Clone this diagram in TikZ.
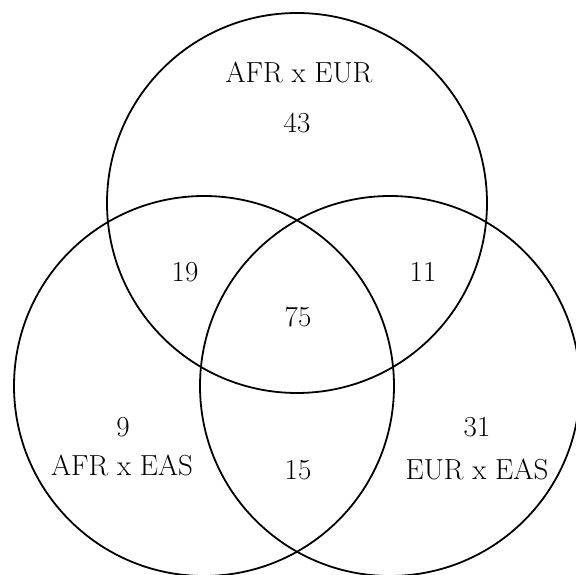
\documentclass[tikz,border=0pt]{standalone}
\usepackage{tikz}

\tikzset{
  insieme/.style={line width=1.8pt},
  etichetta/.style={font=\fontsize{29}{34}\selectfont, inner sep=0pt},
}

\begin{document}
\begin{tikzpicture}[x=1pt,y=1pt]
        \useasboundingbox (0,0) rectangle (576,575);
        \clip (0,0) rectangle (576,575);

        % centri dei cerchi
        \coordinate (cEUR) at (297,372);
        \coordinate (cAFR) at (204,189);
        \coordinate (cEAS) at (390,189);

        % disegno cerchi
        \draw[insieme] (cEUR) circle (190);
        \draw[insieme] (cAFR) circle (190);
        \draw[insieme] (cEAS) circle (190);

        % etichette e valori
        \node[etichetta] (nomeAE) at (299,503) {AFR x EUR};
        \node[etichetta] (valAE) at (297,452) {43};
        \node[etichetta] (valAEa) at (185,303) {19};
        \node[etichetta] (valEEa) at (423,303) {11};
        \node[etichetta] (valTutti) at (298,258) {75};
        \node[etichetta] (valAA) at (123,148) {9};
        \node[etichetta] (nomeAA) at (122,110) {AFR x EAS};
        \node[etichetta] (valEA) at (477,148) {31};
        \node[etichetta] (nomeEA) at (477,106) {EUR x EAS};
        \node[etichetta] (valAAe) at (298,105) {15};
    \end{tikzpicture}
\end{document}
